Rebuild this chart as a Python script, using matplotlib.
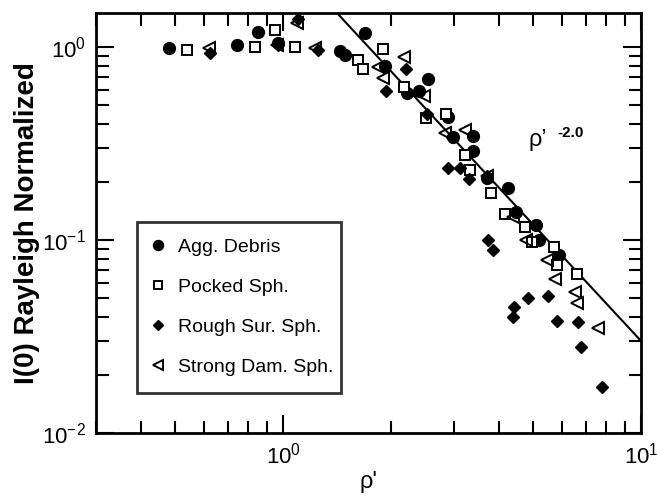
import numpy as np
import matplotlib
matplotlib.use('Agg')
import matplotlib.pyplot as plt
from matplotlib.ticker import LogLocator, NullFormatter

plt.rcParams['font.family'] = ['Liberation Sans', 'DejaVu Sans']
plt.rcParams['mathtext.fontset'] = 'custom'
plt.rcParams['mathtext.rm'] = 'Liberation Sans'
plt.rcParams['mathtext.it'] = 'Liberation Sans:italic'
plt.rcParams['mathtext.bf'] = 'Liberation Sans:bold'

# Agg. Debris
agg_x = [0.48, 0.745, 0.85, 0.97, 1.44, 1.49, 1.69, 1.93, 2.22, 2.40, 2.54,
         2.88, 2.99, 3.40, 3.39, 3.71, 4.24, 4.48, 5.09, 5.19, 5.9]
agg_y = [0.99, 1.02, 1.20, 1.05, 0.955, 0.91, 1.18, 0.80, 0.575, 0.59, 0.68,
         0.435, 0.343, 0.346, 0.29, 0.21, 0.185, 0.14, 0.12, 0.10, 0.084]

# Pocked Sph.
pock_x = [0.54, 0.835, 0.95, 1.08, 1.62, 1.67, 1.9, 2.17, 2.51, 2.85, 3.22,
          3.33, 3.81, 4.17, 4.74, 4.95, 5.71, 5.84, 6.64]
pock_y = [0.965, 1.0, 1.23, 1.0, 0.855, 0.77, 0.98, 0.62, 0.43, 0.45, 0.275,
          0.23, 0.175, 0.137, 0.117, 0.098, 0.092, 0.074, 0.067]

# Rough Sur. Sph.
rough_x = [0.625, 0.97, 1.10, 1.25, 1.94, 2.2, 2.52, 2.96, 2.89, 3.12, 3.31,
           3.71, 3.74, 3.87, 4.84, 5.51, 4.42, 4.38, 5.81, 6.65, 6.8, 7.77]
rough_y = [0.93, 1.02, 1.40, 0.97, 0.59, 0.77, 0.45, 0.343, 0.235, 0.235, 0.206,
           0.215, 0.10, 0.089, 0.050, 0.051, 0.045, 0.040, 0.038, 0.0375, 0.028, 0.0174]

# Strong Dam. Sph.
strong_x = [0.62, 0.96, 1.09, 1.23, 1.845, 1.9, 2.17, 2.47, 2.83, 3.22, 3.71,
            4.38, 4.77, 5.45, 5.75, 6.54, 6.64, 7.6]
strong_y = [0.985, 1.02, 1.33, 0.985, 0.79, 0.69, 0.89, 0.56, 0.357, 0.37, 0.215,
            0.132, 0.10, 0.079, 0.063, 0.054, 0.047, 0.035]

# power law fit rho'^-2.0
fit_x = np.array([1.0, 10.0])
fit_y = 3.0 * fit_x ** -2.0

fig = plt.figure(figsize=(6.57, 4.97), dpi=100)
ax = fig.add_axes([0.1461, 0.1288, 0.8295, 0.8451])

ax.plot(fit_x, fit_y, color='black', lw=1.5, zorder=1)

ax.plot(agg_x, agg_y, 'o', color='black', ms=8.5, ls='none',
        label='Agg. Debris')
ax.plot(pock_x, pock_y, 's', mfc='white', mec='black', mew=1.4, ms=7.5,
        ls='none', label='Pocked Sph.')
ax.plot(rough_x, rough_y, 'D', color='black', ms=6.2, ls='none',
        label='Rough Sur. Sph.')
ax.plot(strong_x, strong_y, '<', mfc='none', mec='black', mew=1.4, ms=9,
        ls='none', label='Strong Dam. Sph.')

ax.set_xscale('log')
ax.set_yscale('log')
ax.set_xlim(0.3, 10)
ax.set_ylim(0.01, 1.5)

ax.xaxis.set_minor_locator(LogLocator(base=10, subs=np.arange(2, 10)))
ax.yaxis.set_minor_locator(LogLocator(base=10, subs=np.arange(2, 10)))
ax.xaxis.set_minor_formatter(NullFormatter())
ax.yaxis.set_minor_formatter(NullFormatter())

ax.tick_params(which='both', direction='in', top=True, right=True,
               labelsize=16, width=1.5)
ax.tick_params(which='major', length=13, pad=7)
ax.tick_params(which='minor', length=9)
for s in ax.spines.values():
    s.set_linewidth(2)

ax.set_xlabel("ρ'", fontsize=17, labelpad=2)
ax.set_ylabel('I(0) Rayleigh Normalized', fontsize=20, fontweight='bold',
              labelpad=2)

ax.text(0.793, 0.684, "ρ’", transform=ax.transAxes, fontsize=17)
ax.text(0.846, 0.705, "-2.0", transform=ax.transAxes, fontsize=11,
        fontweight='bold')

leg = ax.legend(loc='lower left', bbox_to_anchor=(0.075, 0.096, 0.374, 0.404),
                mode='expand', borderaxespad=0, fontsize=14, frameon=True,
                fancybox=False, edgecolor='black', labelspacing=1.15,
                handlelength=0.5, handletextpad=0.76, borderpad=0.85,
                markerscale=0.85, numpoints=1)
leg.get_frame().set_linewidth(2)

fig.savefig('out.png', dpi=100)
